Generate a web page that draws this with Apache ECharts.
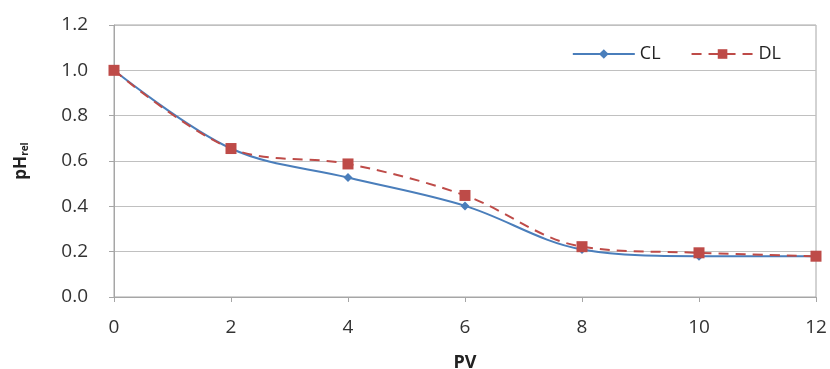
<!DOCTYPE html>
<html><head><meta charset="utf-8">
<script src="https://cdn.jsdelivr.net/npm/echarts@6/dist/echarts.min.js"></script>
<style>html,body{margin:0;padding:0;background:#fff}#c{width:830px;height:369px}</style>
</head><body><div id="c"></div>
<script>
const pv = [0, 2, 4, 6, 8, 10, 12];
const clValues = [1.0, 0.655, 0.527, 0.402, 0.21, 0.18, 0.18];
const dlValues = [1.0, 0.655, 0.587, 0.448, 0.222, 0.195, 0.18];
const xTicks = [0, 2, 4, 6, 8, 10, 12];
const yTicks = [0, 0.2, 0.4, 0.6, 0.8, 1.0, 1.2];
const seriesNames = ['CL', 'DL'];

const font = '"Open Sans", "Liberation Sans", sans-serif';
const chart = echarts.init(document.getElementById('c'), null, {renderer: 'canvas'});
chart.setOption({
  animation: false,
  backgroundColor: '#fff',
  grid: {left: 114, right: 14, top: 25, bottom: 72, show: true, borderColor: '#a6a6a6', borderWidth: 1,
    containLabel: false, outerBoundsMode: 'none'},
  legend: {
    top: 40, right: 44, itemGap: 30, itemWidth: 62, itemHeight: 12,
    textStyle: {fontFamily: font, fontSize: 18, color: '#222'},
    data: seriesNames
  },
  xAxis: {
    type: 'value', min: xTicks[0], max: xTicks[xTicks.length - 1], interval: 2,
    name: 'PV', nameLocation: 'middle', nameGap: 57,
    nameTextStyle: {fontFamily: font, fontSize: 18, fontWeight: 'bold', color: '#222'},
    axisLine: {show: true, lineStyle: {color: '#a6a6a6'}},
    axisTick: {show: true, length: 5, inside: false, lineStyle: {color: '#a6a6a6'}},
    axisLabel: {fontFamily: font, fontSize: 19, color: '#333', margin: 21},
    splitLine: {show: false}
  },
  yAxis: {
    type: 'value', min: yTicks[0], max: yTicks[yTicks.length - 1], interval: 0.2,
    name: '{a|pH}{b|rel}', nameLocation: 'middle', nameGap: 84, nameRotate: 90,
    nameTextStyle: {
      rich: {
        a: {fontFamily: font, fontSize: 17, fontWeight: 'bold', color: '#222'},
        b: {fontFamily: font, fontSize: 10, fontWeight: 'bold', color: '#222', verticalAlign: 'bottom', padding: [8, 0, 0, 0]}
      }
    },
    axisLine: {show: true, lineStyle: {color: '#a6a6a6'}},
    axisTick: {show: true, length: 5, lineStyle: {color: '#a6a6a6'}},
    axisLabel: {fontFamily: font, fontSize: 19, color: '#333', margin: 26,
      formatter: v => v.toFixed(1)},
    splitLine: {show: true, lineStyle: {color: '#c0c0c0', width: 1}}
  },
  series: [
    {
      name: seriesNames[0], type: 'line', smooth: 0.35,
      data: pv.map((x, i) => [x, clValues[i]]),
      symbol: 'diamond', symbolSize: 9,
      lineStyle: {color: '#4a7ebb', width: 2},
      itemStyle: {color: '#4a7ebb'}
    },
    {
      name: seriesNames[1], type: 'line', smooth: 0.35,
      data: pv.map((x, i) => [x, dlValues[i]]),
      symbol: 'rect', symbolSize: 11,
      lineStyle: {color: '#be4b48', width: 2, type: [10, 7]},
      itemStyle: {color: '#be4b48'}
    }
  ]
});
</script></body></html>
